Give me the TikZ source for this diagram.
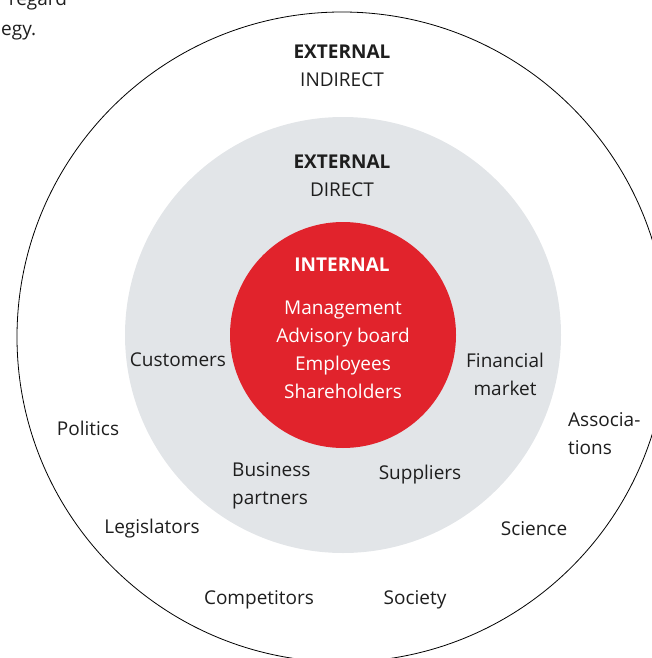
\documentclass[tikz,border=0pt]{standalone}
\usepackage{fontspec}
\setmainfont{Open Sans}
\definecolor{ringred}{RGB}{225,35,44}
\definecolor{ringgray}{RGB}{226,229,232}
\definecolor{inktext}{RGB}{30,30,30}
\tikzset{
  label/.style={text=inktext,font=\fontsize{19}{28}\selectfont,inner sep=0pt,align=center},
  labelleft/.style={label,align=left},
  head/.style={label,font=\fontsize{19}{28}\selectfont\bfseries},
  inner/.style={label,text=white}
}
\begin{document}
\begin{tikzpicture}[x=1pt,y=-1pt]
\useasboundingbox (0,0) rectangle (652,658);
% rings
\draw[line width=0.8pt] (342,337) circle (325);
\fill[ringgray] (343,335) circle (218);
\fill[ringred] (343,335) circle (113);
% text of the page round the figure
\node[labelleft,anchor=base west] (pagea) at (-4,6) {r regard};
\node[labelleft,anchor=base west] (pageb) at (1,36) {egy.};
% external indirect
\node[head] (indhead) at (342,52) {EXTERNAL};
\node[label] (indsub) at (342,80) {INDIRECT};
\node[label] (politics) at (88,428) {Politics};
\node[labelleft,anchor=west] (assoc) at (568,434) {Associa-\\tions};
\node[label] (legis) at (152,529) {Legislators};
\node[label] (science) at (534,529) {Science};
\node[label] (compet) at (259,600) {Competitors};
\node[label] (society) at (415,600) {Society};
% external direct
\node[head] (dirhead) at (342,162) {EXTERNAL};
\node[label] (dirsub) at (342,190) {DIRECT};
\node[label] (customers) at (178,360) {Customers};
\node[label] (finance) at (505,374) {Financial\\market};
\node[labelleft,anchor=west] (business) at (232,486) {Business\\partners};
\node[label] (suppliers) at (420,475) {Suppliers};
% internal
\node[inner,font=\fontsize{19}{28}\selectfont\bfseries] (inthead) at (342,265) {INTERNAL};
\node[inner] (intlist) at (343,350) {Management\\Advisory board\\Employees\\Shareholders};
\end{tikzpicture}
\end{document}
